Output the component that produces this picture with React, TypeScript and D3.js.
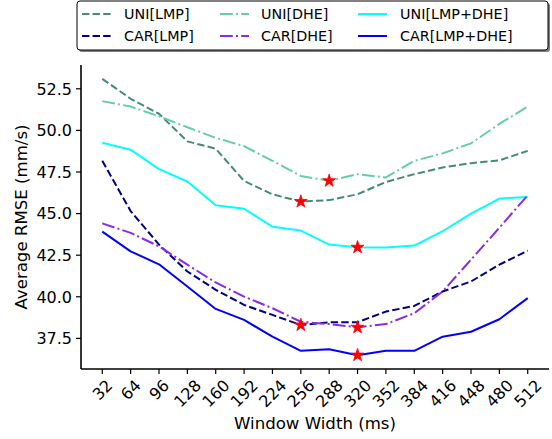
import React from "react";
import * as d3 from "d3";

const windows = ["32", "64", "96", "128", "160", "192", "224", "256", "288", "320", "352", "384", "416", "448", "480", "512"];
const yTicks = [37.5, 40.0, 42.5, 45.0, 47.5, 50.0, 52.5];

const uniLMP = [53.1, 51.9, 51.0, 49.34, 48.9, 46.96, 46.16, 45.72, 45.81, 46.16, 46.9, 47.37, 47.77, 48.03, 48.2, 48.77];
const uniDHE = [51.76, 51.43, 50.85, 50.19, 49.55, 49.05, 48.17, 47.26, 46.97, 47.37, 47.17, 48.17, 48.62, 49.22, 50.39, 51.43];
const uniBoth = [49.26, 48.84, 47.67, 46.93, 45.5, 45.29, 44.21, 43.98, 43.14, 42.97, 42.96, 43.08, 43.94, 45.0, 45.9, 46.0];
const carLMP = [48.17, 45.15, 43.14, 41.52, 40.42, 39.51, 38.91, 38.3, 38.47, 38.47, 39.11, 39.45, 40.32, 40.92, 41.93, 42.77];
const carDHE = [44.41, 43.84, 43.03, 41.93, 40.86, 40.01, 39.31, 38.5, 38.36, 38.16, 38.36, 39.01, 40.32, 42.23, 44.15, 46.1];
const carBoth = [43.92, 42.73, 41.95, 40.62, 39.27, 38.61, 37.6, 36.75, 36.85, 36.49, 36.75, 36.75, 37.6, 37.9, 38.65, 39.92];

const seriesNames = ["UNI[LMP]", "UNI[DHE]", "UNI[LMP+DHE]", "CAR[LMP]", "CAR[DHE]", "CAR[LMP+DHE]"];
const seriesValues = [uniLMP, uniDHE, uniBoth, carLMP, carDHE, carBoth];
const seriesColors = ["#458b74", "#66cdaa", "#00ffff", "#000080", "#8a2be2", "#0000ff"];
const seriesDash = ["7.4,3.2", "12.8,3.2,2,3.2", "none", "7.4,3.2", "12.8,3.2,2,3.2", "none"];
const bestWindow = ["256", "288", "320", "256", "320", "320"];

const FONT = "DejaVu Sans";

export default function App() {
  const W = 552, H = 439;
  const left = 81, right = 549, top = 65, bottom = 369;

  const x = d3.scalePoint<string>().domain(windows).range([left, right]).padding(0.75);
  const all = seriesValues.flat();
  const [mn, mx] = d3.extent(all) as [number, number];
  const pad = (mx - mn) * 0.05;
  const y = d3.scaleLinear().domain([mn - pad, mx + pad]).range([bottom, top]);

  const line = d3.line<number>()
    .x((_, i) => x(windows[i]) as number)
    .y((d) => y(d));

  const star = d3.symbol().type(d3.symbolStar).size(52)();

  const fs = 16;
  const legendCols = [
    { lx: 82, tx: 124 },
    { lx: 220, tx: 261 },
    { lx: 358, tx: 400 },
  ];
  const legendRows = [14, 36];

  return (
    <svg width={W} height={H} style={{ position: "absolute", left: 0, top: 0, background: "#fff" }} fontFamily={FONT}>
      {/* lines */}
      {seriesValues.map((vals, s) => (
        <path key={s} d={line(vals) || ""} fill="none" stroke={seriesColors[s]} strokeWidth={2}
          strokeDasharray={seriesDash[s]} strokeLinejoin="round" strokeLinecap="butt" />
      ))}
      {/* best markers */}
      {seriesValues.map((vals, s) => {
        const idx = windows.indexOf(bestWindow[s]);
        return (
          <path key={"m" + s} d={star || ""} fill="#ff0000" stroke="#ff0000" strokeWidth={0.8}
            transform={`translate(${x(bestWindow[s])},${y(vals[idx])})`} />
        );
      })}
      {/* spines */}
      <line x1={left} x2={left} y1={top} y2={bottom} stroke="#000" strokeWidth={1.6} />
      <line x1={left} x2={right} y1={bottom} y2={bottom} stroke="#000" strokeWidth={1.6} />
      {/* y ticks */}
      {yTicks.map((t) => (
        <g key={t}>
          <line x1={left - 5} x2={left} y1={y(t)} y2={y(t)} stroke="#000" strokeWidth={1.2} />
          <text x={left - 9} y={y(t)} dy="0.36em" textAnchor="end" fontSize={fs} fill="#000">{t.toFixed(1)}</text>
        </g>
      ))}
      {/* x ticks */}
      {windows.map((w) => {
        const cx = x(w) as number;
        const tw = w.length * 0.636 * fs;
        const th = fs * 1.16;
        const cy = 376 + (tw + th) / (2 * Math.SQRT2);
        return (
          <g key={w}>
            <line x1={cx} x2={cx} y1={bottom} y2={bottom + 5} stroke="#000" strokeWidth={1.2} />
            <text transform={`translate(${cx},${cy}) rotate(-45)`} textAnchor="middle" dy="0.36em" fontSize={fs} fill="#000">{w}</text>
          </g>
        );
      })}
      {/* axis labels */}
      <text x={(left + right) / 2} y={429} textAnchor="middle" fontSize={16.6} fill="#000">Window Width (ms)</text>
      <text transform={`translate(27,${(top + bottom) / 2}) rotate(-90)`} textAnchor="middle" fontSize={16.6} fill="#000">Average RMSE (mm/s)</text>
      {/* legend */}
      <rect x={79} y={3} width={471} height={49} rx={3} fill="#000" fillOpacity={0.5} />
      <rect x={77} y={1} width={471} height={49} rx={3} fill="#fff" stroke="#000" strokeWidth={1} />
      {seriesNames.map((name, s) => {
        const col = legendCols[Math.floor(s % 3)];
        const row = legendRows[Math.floor(s / 3)];
        return (
          <g key={"l" + s}>
            <line x1={col.lx} x2={col.lx + 29} y1={row} y2={row} stroke={seriesColors[s]} strokeWidth={2} strokeDasharray={seriesDash[s]} />
            <text x={col.tx} y={row} dy="0.36em" fontSize={14.3} fill="#000">{name}</text>
          </g>
        );
      })}
    </svg>
  );
}
